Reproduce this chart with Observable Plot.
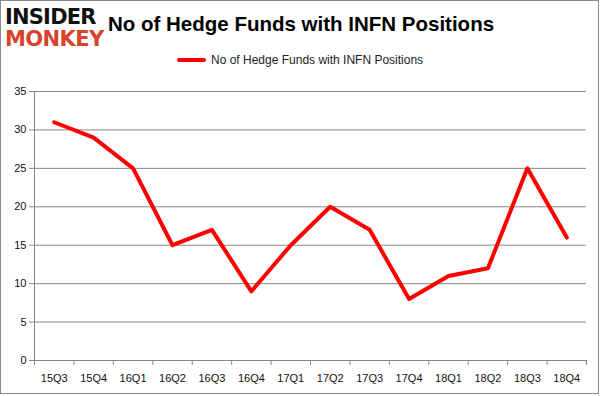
<!DOCTYPE html>
<html>
<head>
<meta charset="utf-8">
<script src="https://cdn.jsdelivr.net/npm/d3@7"></script>
<script src="https://cdn.jsdelivr.net/npm/@observablehq/plot@0.6"></script>
<style>
  html, body { margin: 0; padding: 0; background: #fff; }
  #wrap { position: relative; width: 601px; height: 396px; overflow: hidden; background: #fff; font-family: "Liberation Sans", Arial, sans-serif; }
  #border { position: absolute; left: 0; top: 0; width: 597px; height: 392px; border: 1px solid #8a8a8a; pointer-events: none; }
  #head { position: relative; height: 80px; }
  #logo1 { position: absolute; left: 5px; top: 7px; font: 900 21px "DejaVu Sans", sans-serif; letter-spacing: -0.8px; color: #111; line-height: 21px; }
  #logo2 { position: absolute; left: 5px; top: 29px; font: 900 21px "DejaVu Sans", sans-serif; letter-spacing: -0.6px; color: #d9432b; line-height: 21px; }
  #title { position: absolute; left: 108px; top: 12px; font: bold 20.5px "Liberation Sans", Arial, sans-serif; color: #000; white-space: nowrap; }
  #legend { position: absolute; left: 177px; top: 53px; font: 12px "Liberation Sans", Arial, sans-serif; color: #222; white-space: nowrap; display: flex; align-items: center; }
  #legend .sw { display: inline-block; width: 29px; height: 4px; background: #ff0000; border-radius: 2px; margin-right: 5px; }
  #chart svg text { fill: #111; }
</style>
</head>
<body>
<div id="wrap">
  <div id="head">
    <div id="logo1">INSIDER</div>
    <div id="logo2">MONKEY</div>
    <div id="title">No of Hedge Funds with INFN Positions</div>
    <div id="legend"><span class="sw"></span><span id="legendText"></span></div>
  </div>
  <div id="chart"></div>
  <div id="border"></div>
</div>
<script>
const seriesName = "No of Hedge Funds with INFN Positions";
const quarters = ["15Q3","15Q4","16Q1","16Q2","16Q3","16Q4","17Q1","17Q2","17Q3","17Q4","18Q1","18Q2","18Q3","18Q4"];
const funds = [31, 29, 25, 15, 17, 9, 15, 20, 17, 8, 11, 12, 25, 16];
const yTicks = [0, 5, 10, 15, 20, 25, 30, 35];

document.getElementById("legendText").textContent = seriesName;

const data = quarters.map((q, i) => ({i, q, v: funds[i]}));
const boundaries = d3.range(quarters.length + 1).map(i => i - 0.5);

const chart = Plot.plot({
  width: 601,
  height: 316,
  marginTop: 11,
  marginBottom: 36,
  marginLeft: 34,
  marginRight: 15,
  style: { fontFamily: "Liberation Sans, Arial, sans-serif", fontSize: "11px", color: "#888", background: "transparent", overflow: "visible" },
  x: { type: "linear", domain: [-0.5, quarters.length - 0.5], ticks: boundaries, tickFormat: () => "", tickSize: 5, label: null },
  y: { domain: [0, 35], ticks: yTicks, tickSize: 5, tickPadding: 3, label: null },
  marks: [
    Plot.ruleY(yTicks, { stroke: "#888", strokeWidth: 1 }),
    Plot.ruleX([-0.5], { y1: 0, y2: 35, stroke: "#888", strokeWidth: 1 }),
    Plot.text(data, { x: "i", y: 0, text: "q", dy: 18, fill: "#111", fontSize: 11 }),
    Plot.line(data, { x: "i", y: "v", stroke: "#ff0000", strokeWidth: 4, strokeLinejoin: "round", strokeLinecap: "round" })
  ]
});
document.getElementById("chart").appendChild(chart);
</script>
</body>
</html>
